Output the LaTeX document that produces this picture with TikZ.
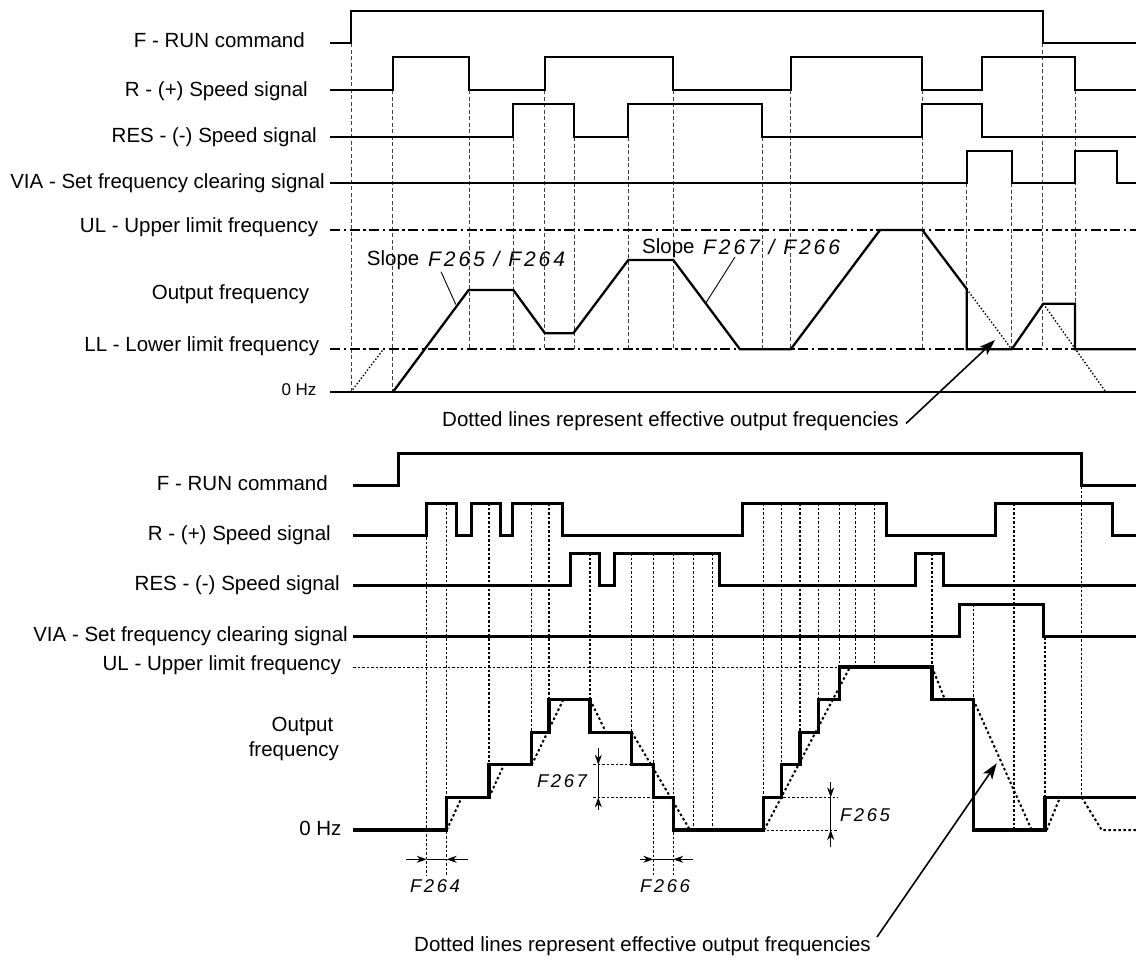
\documentclass[tikz,border=0pt]{standalone}
\usepackage{fontspec}
\setmainfont{Liberation Sans}
\newfontfamily\segfont[LetterSpace=14]{Liberation Sans}
\usetikzlibrary{arrows.meta}
\begin{document}
\begin{tikzpicture}[x=1pt,y=-1pt,
  lbl/.style={font=\fontsize{20.5}{24}\selectfont, anchor=base east, inner sep=0pt},
  txt/.style={font=\fontsize{20.5}{24}\selectfont, inner sep=0pt},
  segbig/.style={font=\fontsize{21}{24}\selectfont\segfont\itshape, inner sep=0pt},
  segsm/.style={font=\fontsize{18.5}{22}\selectfont\segfont\itshape, inner sep=0pt},
  sigT/.style={line width=2pt, line join=miter},
  sigB/.style={line width=3pt, line join=miter},
  outT/.style={line width=2.3pt, line join=miter},
  outB/.style={line width=3.2pt, line join=miter},
  vT/.style={line width=0.7pt, dash pattern=on 4pt off 2.5pt, black!75},
  vB/.style={line width=1.1pt, dash pattern=on 2.5pt off 2pt},
  hB/.style={line width=0.9pt, dash pattern=on 2.5pt off 2pt},
  dashdot/.style={line width=2pt, dash pattern=on 10pt off 3.5pt on 2.5pt off 3.5pt},
  effT/.style={line width=1.4pt, dash pattern=on 1.4pt off 2pt},
  effB/.style={line width=2pt, dash pattern=on 2.5pt off 2.5pt},
  leader/.style={line width=0.9pt},
  dimarrow/.style={-{Stealth[length=10pt,width=7pt]}, line width=0.9pt},
  annarrow/.style={-{Stealth[length=16pt,width=11pt,inset=4pt]}, line width=1.6pt}]
\useasboundingbox (0,0) rectangle (1136,962);

% ================= TOP DIAGRAM =================
\node[lbl] (tF)   at (305,47.3)  {F - RUN command};
\node[lbl] (tR)   at (308,96)    {R - (+) Speed signal};
\node[lbl] (tRES) at (317,142.7) {RES - (-) Speed signal};
\node[lbl] (tVIA) at (325,188.3) {VIA - Set frequency clearing signal};
\node[lbl] (tUL)  at (318.3,232.7) {UL - Upper limit frequency};
\node[lbl] (tOut) at (309.3,299.3) {Output frequency};
\node[lbl] (tLL)  at (319.3,351.7) {LL - Lower limit frequency};
\node[lbl, font=\fontsize{17}{20}\selectfont] (t0) at (316.7,395) {0 Hz};

\foreach \x/\a/\b in {351/43/392, 392.5/90/392, 469/90/349, 513.3/137/349, 544.5/90/349,
  574/137/349, 628.3/137/349, 673.3/90/349, 762.3/137/349, 790.7/90/349, 922.3/90/349,
  966.7/183/289, 1011.7/183/349, 1042.7/43/349, 1075/90/304}
  \draw[vT] (\x,\a) -- (\x,\b);

\draw[sigT] (330,43) -| (351,11) -| (1042.7,43) -- (1136,43);
\draw[sigT] (330,90) -| (392.5,57) -| (469,90) -| (544.5,57) -| (673.3,90)
   -| (790.7,57) -| (922.3,90) -| (982.3,57) -| (1075,90) -- (1136,90);
\draw[sigT] (330,136.7) -| (513.3,104) -| (574,136.7) -| (628.3,104) -| (762.3,136.7)
   -| (922.3,104) -| (982.3,136.7) -- (1136,136.7);
\draw[sigT] (330,183.3) -| (966.7,151) -| (1011.7,183.3) -| (1075,151) -| (1116.7,183.3) -- (1136,183.3);

\draw[dashdot] (330,230) -- (1136,230);
\draw[dashdot] (330,349.3) -- (1136,349.3);
\draw[line width=2pt] (330,392.3) -- (1136,392.3);

\draw[outT] (392.7,392.3) -- (468.7,290) -- (513.3,290) -- (545,333.3) -- (573.3,333.3)
  -- (628.3,260) -- (673.3,260) -- (740,349.3) -- (790.7,349.3) -- (880,230) -- (922.3,230)
  -- (966.7,289) -- (966.7,349.3) -- (1011.7,349.3) -- (1043.3,303.7) -- (1075,303.7)
  -- (1075,349.3) -- (1136,349.3);
\draw[effT] (350.7,392.3) -- (383.3,349.3);
\draw[effT] (966.7,289) -- (1011.7,349.3);
\draw[effT] (1043.3,303.7) -- (1106,392.3);

\node[txt, anchor=base west] (s1) at (366.7,265) {Slope};
\node[segbig, anchor=base west] (s1f) at (428,266) {F265 / F264};
\coordinate (s1a) at (441,271.7);
\coordinate (s1b) at (455.8,304.5);
\draw[leader] (s1a) -- (s1b);
\node[txt, anchor=base west] (s2) at (642,253.3) {Slope};
\node[segbig, anchor=base west] (s2f) at (703,254) {F267 / F266};
\coordinate (s2a) at (735,257);
\coordinate (s2b) at (705.8,303);
\draw[leader] (s2a) -- (s2b);

\node[txt, anchor=base] (ann1) at (670.5,426) {Dotted lines represent effective output frequencies};
\coordinate (a1s) at (906,423.5);
\coordinate (a1e) at (995,340);
\draw[annarrow] (a1s) -- (a1e);

% ================= BOTTOM DIAGRAM =================
\node[lbl] (bF)   at (328,490.5) {F - RUN command};
\node[lbl] (bR)   at (331,540.5) {R - (+) Speed signal};
\node[lbl] (bRES) at (340,590.5) {RES - (-) Speed signal};
\node[lbl] (bVIA) at (348,641) {VIA - Set frequency clearing signal};
\node[lbl] (bUL)  at (341,670) {UL - Upper limit frequency};
\node[txt, anchor=base] (bOut1) at (302.5,731.7) {Output};
\node[txt, anchor=base] (bOut2) at (293.8,756.5) {frequency};
\node[lbl] (b0) at (341.7,835.5) {0 Hz};

\foreach \x/\a/\b in {426.7/537/875, 446.7/503/875, 489/503/797, 531.7/503/765, 549/503/732,
  590/553/732, 631.7/553/765, 653.3/553/875, 673.3/553/875, 693.3/553/830, 712.3/553/830,
  763.3/503/830, 781.7/503/797, 800/503/765, 818.3/503/732, 839.3/503/700, 855.7/503/667,
  874.3/503/667, 932/553/700, 973.3/604/830, 1014/503/830, 1045/637/830, 1081.7/486/797}
  \draw[vB] (\x,\a) -- (\x,\b);

\draw[sigB] (353,485.7) -| (398.3,453) -| (1081.7,485.7) -- (1136,485.7);
\draw[sigB] (353,535) -| (426.7,503) -| (456.7,535) -| (471,503) -| (500.7,535) -| (512.7,503)
   -| (562.3,535) -| (742.3,503) -| (886,535) -| (995.7,503) -| (1112.3,535) -- (1136,535);
\draw[sigB] (353,585.5) -| (570,553) -| (599.3,585.5) -| (614.3,553) -| (719.3,585.5)
   -| (915,553) -| (943.3,585.5) -- (1136,585.5);
\draw[sigB] (353,636.7) -| (959,604) -| (1043.3,636.7) -- (1136,636.7);

\draw[hB] (353,667) -- (839.3,667);

\draw[outB] (353,830) -| (446.7,797.4) -| (489,764.8) -| (531.7,732.2) -| (549,699.6)
  -| (590,732.2) -| (631.7,764.8) -| (653.3,797.4) -| (673.3,830) -| (763.3,797.4)
  -| (781.7,764.8) -| (800,732.2) -| (818.3,699.6) -| (839.3,667) -| (932,699.6)
  -| (973.3,830) -| (1045,797.4) -- (1136,797.4);

\draw[effB] (446.7,830) -- (461.7,797.4);
\draw[effB] (489,797.4) -- (504,764.8);
\draw[effB] (531.7,764.8) -- (563.3,699.6);
\draw[effB] (590,699.6) -- (606,732.2);
\draw[effB] (631.7,732.2) -- (690,830);
\draw[effB] (764,830) -- (850,667);
\draw[effB] (932,667) -- (945,699.6);
\draw[effB] (973.3,699.6) -- (1031.7,830);
\draw[effB] (1046.7,830) -- (1060,797.4);
\draw[effB] (1081.7,797.4) -- (1101.7,830) -- (1136,830);

\draw[hB] (593.3,764.8) -- (631.7,764.8);
\draw[hB] (593.3,797.4) -- (653.3,797.4);
\draw[dimarrow] (598.3,748) -- (598.3,764.8);
\draw[dimarrow] (598.3,810) -- (598.3,797.4);
\draw[leader] (598.3,764.8) -- (598.3,797.4);
\node[segsm] (f267) at (562,781) {F267};

\draw[hB] (783.3,797.4) -- (838.3,797.4);
\draw[hB] (766.7,830) -- (838.3,830);
\draw[dimarrow] (830.7,781.7) -- (830.7,797.4);
\draw[dimarrow] (830.7,846.7) -- (830.7,830);
\draw[leader] (830.7,797.4) -- (830.7,830);
\node[segsm] (f265) at (865,815) {F265};

\draw[dimarrow] (406,859.3) -- (426.7,859.3);
\draw[dimarrow] (468.3,859.3) -- (446.7,859.3);
\draw[leader] (426.7,859.3) -- (446.7,859.3);
\node[segsm] (f264) at (435,886) {F264};

\draw[dimarrow] (640,859.3) -- (653.3,859.3);
\draw[dimarrow] (692.7,859.3) -- (673.3,859.3);
\draw[leader] (653.3,859.3) -- (673.3,859.3);
\node[segsm] (f266) at (665,886) {F266};

\node[txt, anchor=base] (ann2) at (642.5,951) {Dotted lines represent effective output frequencies};
\coordinate (a2s) at (877,937);
\coordinate (a2e) at (996.7,763.3);
\draw[annarrow] (a2s) -- (a2e);
\end{tikzpicture}
\end{document}
